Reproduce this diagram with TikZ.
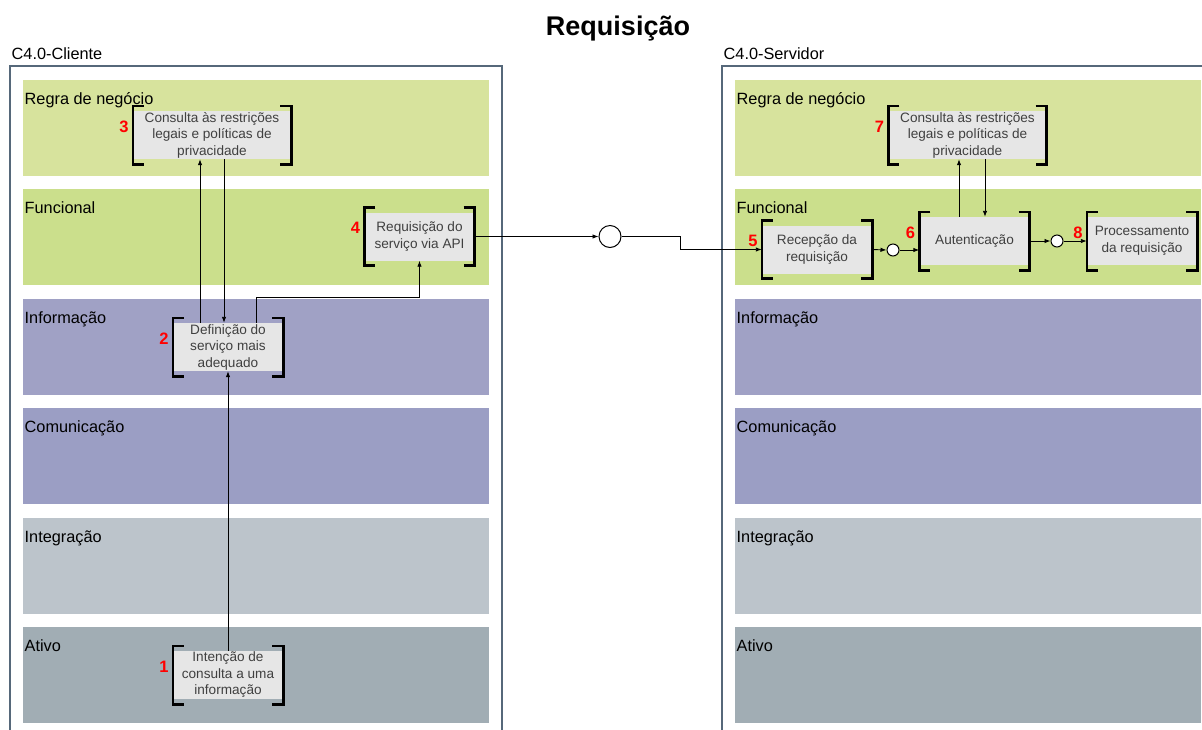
\documentclass[tikz,border=0pt]{standalone}
\usepackage{fontspec}
\setmainfont{Liberation Sans}
\usetikzlibrary{arrows.meta}

\definecolor{regra}{HTML}{D7E39D}
\definecolor{funcional}{HTML}{CBDF8C}
\definecolor{informacao}{HTML}{A0A1C5}
\definecolor{comunicacao}{HTML}{9B9EC4}
\definecolor{integracao}{HTML}{BCC4CB}
\definecolor{ativo}{HTML}{A1ADB4}
\definecolor{borda}{HTML}{56687A}
\definecolor{caixa}{HTML}{E6E6E6}
\definecolor{textocaixa}{HTML}{404040}

% colchetes a esquerda e a direita de um passo
\newcommand{\colchetes}[1]{%
  \draw[line width=2.6pt] ([xshift=11pt,yshift=5pt]#1.north west) -| ([yshift=-5pt]#1.south west) -- ++(11pt,0);
  \draw[line width=2.6pt] ([xshift=-11pt,yshift=5pt]#1.north east) -| ([yshift=-5pt]#1.south east) -- ++(-11pt,0);
}

\begin{document}
\begin{tikzpicture}[x=1pt, y=-1pt,
    passo/.style={fill=caixa, text=textocaixa, align=center, inner sep=0pt,
      minimum width=110pt, minimum height=48pt, font=\fontsize{13.6}{16.5}\selectfont},
    numero/.style={text=red, inner sep=1pt, xshift=-3pt, yshift=8.5pt,
      font=\fontsize{16.5}{16.5}\selectfont\bfseries},
    faixa/.style={anchor=base west, inner sep=0pt, font=\fontsize{16.3}{18}\selectfont},
    juncao/.style={circle, draw, fill=white, inner sep=0pt, line width=1pt},
    seta/.style={-{Latex[length=6pt,width=4.5pt]}, line width=0.9pt}]
  \useasboundingbox (0,0) rectangle (1202,729);
  \clip (0,0) rectangle (1202,729);

  % Titulo
  \node[anchor=base, font=\fontsize{27}{27}\selectfont\bfseries] (titulo) at (618,35) {Requisição};

  % Camadas do cliente e do servidor
  \foreach \xa/\lado in {23/cli, 735/srv}{
    \foreach \ya/\cor/\nome in {80/regra/Regra de negócio, 189/funcional/Funcional,
        299/informacao/Informação, 408/comunicacao/Comunicação,
        518/integracao/Integração, 627/ativo/Ativo}{
      \fill[\cor] (\xa,\ya) rectangle ++(466,95.5);
      \node[faixa] (\lado-\ya) at (\xa+1.5,\ya+24) {\nome};
    }
  }

  % Caixas externas
  \draw[borda, line width=1.4pt] (10,66) rectangle (502,760);
  \draw[borda, line width=1.4pt] (722,66) rectangle (1230,760);
  \node[faixa] (cliente) at (11.5,59) {C4.0-Cliente};
  \node[faixa] (servidor) at (723.5,59) {C4.0-Servidor};

  % Passos do cliente
  \node[passo, label={[numero]left:1}] (c1) at (228,675) {Intenção de\\consulta a uma\\informação};
  \node[passo, label={[numero]left:2}] (c2) at (228,347) {Definição do\\serviço mais\\adequado};
  \node[passo, minimum width=158pt, label={[numero]left:3}] (c3) at (212,135) {Consulta às restrições\\legais e políticas de\\privacidade};
  \node[passo, label={[numero]left:4}] (c4) at (419.5,236.5) {Requisição do\\serviço via API};

  % Passos do servidor
  \node[passo, label={[numero]left:5}] (c5) at (817,249.5) {Recepção da\\requisição};
  \node[passo, label={[numero]left:6}] (c6) at (974.5,241) {Autenticação};
  \node[passo, minimum width=158pt, label={[numero]left:7}] (c7) at (967.5,135) {Consulta às restrições\\legais e políticas de\\privacidade};
  \node[passo, label={[numero]left:8}] (c8) at (1142,241) {Processamento\\da requisição};

  \foreach \c in {c1,c2,c3,c4,c5,c6,c7,c8}{\colchetes{\c}}

  % Junções
  \node[juncao, minimum size=22pt] (j0) at (610,236.5) {};
  \node[juncao, minimum size=12pt] (j1) at (893,250) {};
  \node[juncao, minimum size=12pt] (j2) at (1057,241) {};

  % Fluxo do cliente
  \draw[seta] (c1.north) -- (c2.south);
  \draw[seta] ([xshift=-28pt]c2.north) -- ([xshift=-28pt]c2.north |- c3.south);
  \draw[seta] ([xshift=-4pt]c2.north |- c3.south) -- ([xshift=-4pt]c2.north);
  \draw[seta] ([xshift=28pt]c2.north) -- ++(0,25pt) -| (c4.south);
  \draw[seta] (c4.east) -- (j0.west);
  \draw[seta] (j0.east) -- ++(59pt,0) |- (c5.west);

  % Fluxo do servidor
  \draw[seta] (c5.east) -- (j1.west);
  \draw[seta] (j1.east) -- (c6.west |- j1);
  \draw[seta] ([xshift=-15.5pt]c6.north) -- ([xshift=-15.5pt]c6.north |- c7.south);
  \draw[seta] ([xshift=10.5pt]c6.north |- c7.south) -- ([xshift=10.5pt]c6.north);
  \draw[seta] (c6.east) -- (j2.west);
  \draw[seta] (j2.east) -- (c8.west);
\end{tikzpicture}
\end{document}
